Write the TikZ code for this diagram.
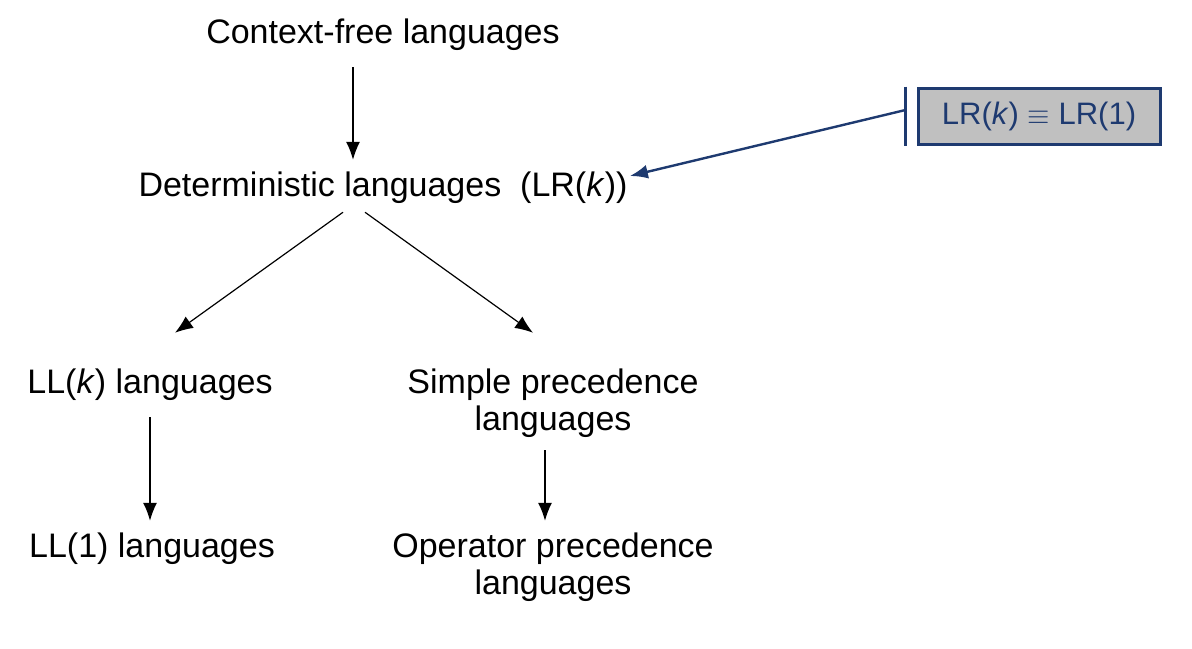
\documentclass[tikz,border=0pt]{standalone}
\usepackage{fontspec}
\setmainfont{Liberation Sans}
\usetikzlibrary{arrows.meta}
\definecolor{navy}{RGB}{30,58,112}
\definecolor{boxgray}{RGB}{192,192,192}

\begin{document}
\begin{tikzpicture}[x=0.5pt,y=-0.5pt,
  lang/.style={font=\fontsize{17}{18.5}\selectfont, align=center, inner sep=0pt},
  arr/.style={-{Latex[length=9pt,width=7pt]}, line width=0.6pt}]
\useasboundingbox (0,0) rectangle (1192,648);

% languages
\node[lang] (cfl) at (383,35)    {Context-free languages};
\node[lang] (det) at (383,188)   {Deterministic languages\ \ (LR(\textit{k}))};
\node[lang] (llk) at (150,385)   {LL(\textit{k}) languages};
\node[lang] (spl) at (553,403.5) {Simple precedence\\languages};
\node[lang] (ll1) at (152,549)   {LL(1) languages};
\node[lang] (opl) at (553,567.5) {Operator precedence\\languages};

% the LR(k) = LR(1) box
\node[lang, font=\fontsize{15.5}{18}\selectfont, text=navy, fill=boxgray, draw=navy, line width=1.5pt,
      minimum width=121pt, minimum height=28pt] (eq) at (1039,116)
      {LR(\textit{k}) $\equiv$ LR(1)};
\draw[navy, line width=1.2pt] ([xshift=-5.5pt]eq.north west) -- ([xshift=-5.5pt]eq.south west);

% arrows
\draw[arr] ([xshift=-15pt,yshift=-8pt]cfl.south) -- ([xshift=-15pt,yshift=6pt]det.north);
\draw[arr] ([xshift=-20pt,yshift=-4pt]det.south) -- ([xshift=12.5pt,yshift=18pt]llk.north);
\draw[arr] ([xshift=-9pt,yshift=-4pt]det.south) -- ([xshift=-10pt,yshift=18pt]spl.north);
\draw[arr] ([yshift=-8pt]llk.south) -- ([xshift=-1pt,yshift=6pt]ll1.north);
\draw[arr] ([xshift=-4pt,yshift=-6pt]spl.south) -- ([xshift=-4pt,yshift=6pt]opl.north);
\draw[navy, line width=1.2pt, -{Latex[length=9pt,width=7pt]}]
  ([xshift=-5.5pt,yshift=3pt]eq.west) -- ([xshift=1pt,yshift=6pt]det.east);

\end{tikzpicture}
\end{document}
